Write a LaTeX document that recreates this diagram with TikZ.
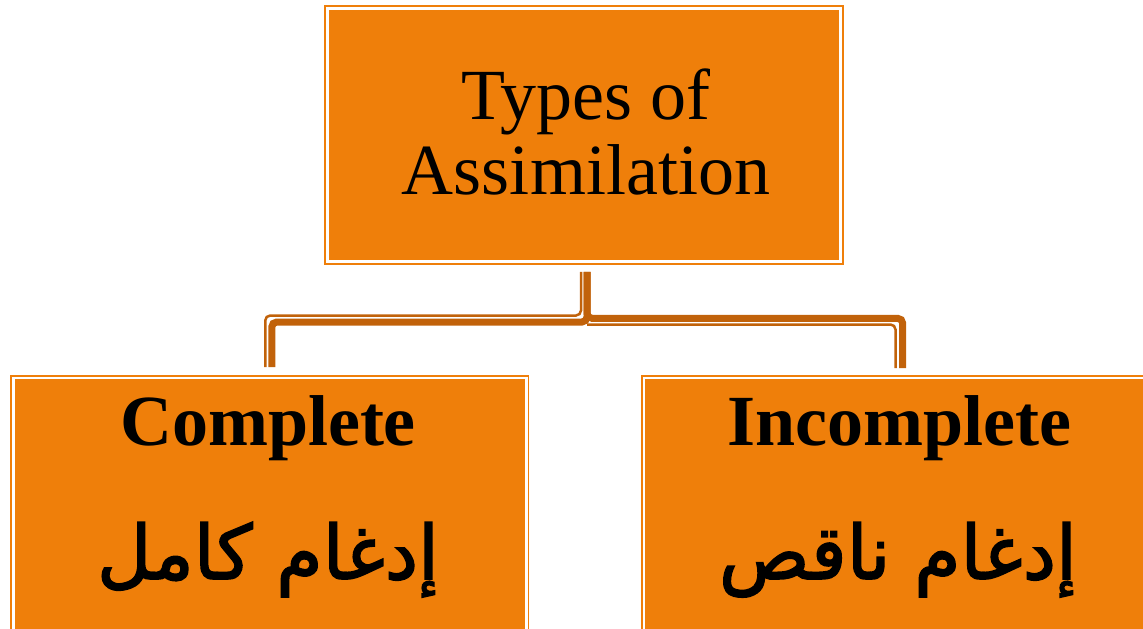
\documentclass[tikz,border=0pt]{standalone}
\usepackage{fontspec}
\setmainfont{Liberation Serif}
\newfontfamily\arabicfont[Script=Arabic, FakeBold=2]{DejaVu Sans}
\TeXXeTstate=1
\usetikzlibrary{calc}
\definecolor{boxorange}{HTML}{EF7F0A}
\definecolor{linkorange}{HTML}{C1620A}
\begin{document}
\begin{tikzpicture}[x=1pt,y=-1pt,
  box/.style={rectangle, draw=boxorange, fill=boxorange, double=white,
    double distance=2.5pt, line width=1.8pt, minimum width=513pt,
    minimum height=253pt, inner sep=0pt},
  thicklink/.style={draw=linkorange, line width=7pt, rounded corners=5pt},
  thinlink/.style={draw=linkorange, line width=2.5pt, rounded corners=5pt},
  txt/.style={inner sep=0pt, anchor=base, font=\fontsize{72}{75}\selectfont},
  arab/.style={inner sep=0pt, anchor=base, font=\fontsize{75}{78}\selectfont\arabicfont}
]
\useasboundingbox (0,0) rectangle (1143,629);
\clip (0,0) rectangle (1143,629);
% boxes
\node[box] (top) at (584,135) {};
\node[box] (left) at (269.75,504.5) {};
\node[box] (right) at (900.5,504.5) {};
% connector helper coordinates
\coordinate (hl) at (430,322);
\coordinate (hlt) at (430,315.5);
\coordinate (hr) at (740,318.3);
\coordinate (hrt) at (587,324.5);
% right connector
\draw[thicklink] ([xshift=3pt,yshift=-9.5pt]top.south) |- (hr) -| ([xshift=2.2pt,yshift=9pt]right.north);
\draw[thinlink] (hrt) -| ([xshift=-5pt,yshift=9pt]right.north);
% left connector
\draw[thicklink] ([xshift=3pt,yshift=-9.5pt]top.south) |- (hl) -| ([xshift=2pt,yshift=10pt]left.north);
\draw[thinlink] ([xshift=-3pt,yshift=-9.5pt]top.south) |- (hlt) -| ([xshift=-4.5pt,yshift=10pt]left.north);
% texts
\node[txt, align=center] (toptext) at (586,194) {Types of\\Assimilation};
\node[txt, font=\fontsize{72}{75}\selectfont\bfseries] (ctext) at (268,445) {Complete};
\node[txt, font=\fontsize{72}{75}\selectfont\bfseries] (itext) at (899.5,445) {Incomplete};
\node[arab] (carab) at (268,579) {\beginR إدغام كامل\endR};
\node[arab] (iarab) at (898,579) {\beginR إدغام ناقص\endR};
\end{tikzpicture}
\end{document}
